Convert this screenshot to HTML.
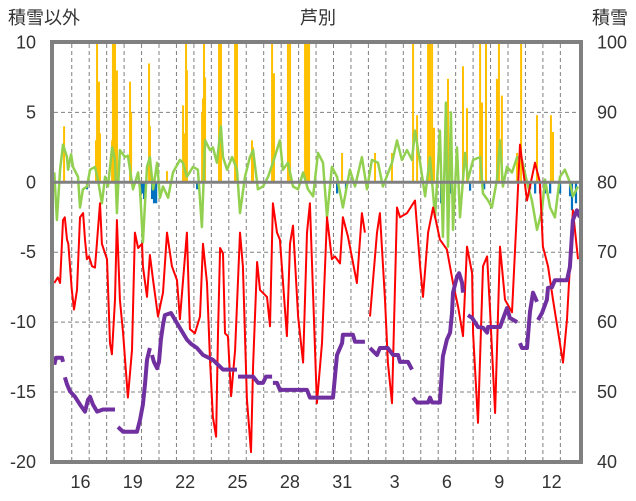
<!DOCTYPE html>
<html><head><meta charset="utf-8"><style>
html,body{margin:0;padding:0;background:#fff;width:636px;height:501px;overflow:hidden}
svg{display:block;font-family:"Liberation Sans","Noto Sans CJK JP",sans-serif}
</style></head><body>
<svg id="chart" width="636" height="501" viewBox="0 0 636 501">
<defs><clipPath id="pc"><rect x="54" y="44" width="525" height="416"/></clipPath></defs>
<rect x="0" y="0" width="636" height="501" fill="#fff"/>
<g id="grid"></g>
<g id="marks" clip-path="url(#pc)"></g>
<line id="zero" stroke="#808080" stroke-width="3"/>
<rect x="52" y="42" width="529" height="420" fill="none" stroke="#808080" stroke-width="4"/>
<g id="axes"></g>
<text x="44" y="24" font-size="18" text-anchor="middle" fill="#333">積雪以外</text>
<text x="318" y="24" font-size="18" text-anchor="middle" fill="#333">芦別</text>
<text x="610" y="24" font-size="18" text-anchor="middle" fill="#333">積雪</text>
</svg>
<script>
const leftTicks=[10,5,0,-5,-10,-15,-20];
const rightTicks=[100,90,80,70,60,50,40];
const dayLabels=["16","19","22","25","28","31","3","6","9","12"];
const dayLabelIdx=[1,4,7,10,13,16,19,22,25,28];
const tempDays=[0,0.2,0.33,0.5,0.6,0.73,0.8,1.0,1.13,1.3,1.47,1.65,1.76,1.87,1.99,2.16,2.33,2.62,2.73,3.02,3.19,3.3,3.48,3.59,3.76,3.94,4.22,4.45,4.62,4.8,5.03,5.08,5.31,5.48,5.66,5.94,6.23,6.46,6.74,7.03,7.2,7.6,7.77,8.06,8.35,8.52,8.75,8.92,9.09,9.27,9.38,9.5,9.67,9.78,9.95,10.13,10.36,10.64,10.81,11.04,11.27,11.39,11.62,11.79,12.19,12.36,12.53,12.76,12.93,13.33,13.51,13.68,13.97,14.26,14.48,14.65,15.05,15.34,15.63,15.91,16.08,16.37,16.54,16.83,17.34,17.63,17.8,null,18.09,18.49,18.66,18.95,19.12,19.35,19.64,19.81,20.21,20.67,20.96,21.13,21.42,21.71,22.1,22.5,22.85,23.14,23.42,23.65,23.94,24.0,24.28,24.57,24.8,24.97,25.26,25.54,25.83,26.23,26.52,26.69,27.09,27.55,27.83,28.0,28.29,28.58,29.15,29.38,29.55,29.72,30.01];
const tempVals=[-7.2,-6.8,-7.2,-2.7,-2.5,-4.1,-4.4,-7.7,-9.1,-7.7,-2.5,-2.2,-4.1,-5.5,-5.3,-6.0,-6.1,-1.5,-4.4,-5.5,-11.5,-12.3,-8.4,-2.7,-8.4,-10.8,-15.4,-12.0,-3.6,-4.7,-4.4,-6.0,-8.2,-5.2,-7.0,-9.6,-7.9,-3.6,-6.0,-7.0,-9.8,-3.6,-10.5,-10.8,-9.6,-4.4,-7.2,-12.7,-16.8,-18.2,-10.8,-4.7,-5.1,-10.8,-11.0,-15.3,-12.0,-3.6,-6.0,-15.5,-19.3,-13.1,-5.7,-7.7,-8.2,-10.3,-1.5,-3.6,-4.1,-11.0,-4.4,-3.1,-9.6,-12.9,-3.6,-1.5,-15.8,-11.5,-2.5,-5.5,-5.3,-5.8,-2.5,-3.9,-7.2,-2.2,-3.6,null,-9.6,-3.6,-2.2,-8.4,-12.9,-15.8,-1.8,-2.5,-2.2,-1.3,-6.0,-8.2,-3.6,-1.8,-4.1,-4.8,-7.2,-8.9,-11.0,-4.6,-6.5,-10.8,-17.2,-6.0,-5.3,-9.1,-16.5,-4.6,-8.4,-9.3,-1.8,2.7,-1.3,1.4,0,-4.6,-6.0,-8.4,-12.9,-9.8,-6.0,-2.0,-5.5];
const greenDays=[0,0.15,0.33,0.5,0.73,0.79,0.96,1.07,1.36,1.47,1.64,1.87,2.05,2.33,2.5,2.73,2.91,3.08,3.31,3.48,3.59,3.76,4.05,4.22,4.51,4.8,4.91,5.08,5.31,5.48,5.66,5.89,6.06,6.23,6.52,6.8,7.2,7.37,7.6,7.95,8.23,8.46,8.64,8.92,9.09,9.32,9.55,9.67,9.9,10.19,10.47,10.64,10.93,11.21,11.39,11.67,11.96,12.25,12.53,12.93,13.1,13.39,13.68,13.97,14.26,14.54,14.83,15.11,15.4,15.63,15.91,16.2,16.54,16.94,17.23,17.63,17.92,18.2,18.55,18.83,19.35,19.64,19.92,20.21,20.5,20.67,20.96,21.25,21.53,21.82,22.1,22.27,22.44,22.56,22.73,22.85,23.08,23.25,23.54,23.71,24.0,24.4,24.57,24.86,25.08,25.37,25.54,25.71,25.94,26.23,26.52,26.8,27.09,27.37,27.66,27.95,28.12,28.41,28.69,28.98,29.26,29.55,29.72,30.01];
const greenVals=[0.7,-2.7,0.9,2.7,1.8,0.9,2.0,1.1,0.4,-1.8,-0.5,-0.3,0.9,1.1,0.2,-1.5,0.4,-0.3,2.5,1.6,-2.2,2.3,1.8,1.9,-0.5,0.7,-0.5,-4.3,1.1,1.8,-0.5,1.4,-1.1,-0.3,-1.1,0.7,1.6,1.4,0.4,1.1,0.9,-3.2,3.0,2.3,2.5,1.4,4.0,1.8,0.9,1.8,0.9,-2.2,0.4,1.8,2.3,-0.5,-0.3,0.4,1.4,3.0,0.9,1.4,-0.3,-0.5,0.7,-0.5,-1.0,2.1,1.4,-2.5,1.1,0.4,-1.8,0.9,-0.3,1.8,-0.5,1.6,1.4,-0.3,1.4,3.0,1.6,2.3,1.6,3.7,1.4,-1.0,1.8,-2.5,3.7,-3.9,5.7,-4.6,5.0,-3.4,2.5,-2.5,2.1,0.2,1.6,1.8,-0.8,-1.3,-1.8,0.2,3.0,-0.3,1.1,0.7,1.8,1.6,0,-1.3,-3.4,-2.0,0.2,-1.8,-2.5,0.4,0.9,0,-1.0,-0.3];
const snowDays=[0,0.1,0.44,0.5,null,0.61,0.73,0.9,1.19,1.47,1.76,1.93,2.05,2.22,2.45,2.79,3.48,null,3.65,3.94,4.74,4.91,5.08,5.2,5.31,5.48,null,5.6,5.71,5.89,6.0,6.11,6.23,6.34,6.69,6.92,7.26,7.6,7.83,8.18,8.52,9.09,9.67,10.47,null,10.53,11.39,11.68,11.96,12.13,12.48,null,12.53,12.76,12.93,14.48,14.65,15.97,16.2,16.49,16.54,17.11,17.23,17.8,null,18.09,18.49,18.66,19.12,19.41,19.7,19.81,20.27,20.5,null,20.56,20.78,21.42,21.53,21.65,22.1,22.22,22.27,22.5,22.68,22.79,22.85,23.08,23.2,23.37,23.42,null,23.71,23.94,24.28,24.57,24.8,24.86,25.54,25.94,26.11,26.52,null,26.69,26.8,27.09,27.26,27.43,27.66,null,27.72,27.95,28.23,28.29,28.52,28.69,29.38,29.55,29.72,29.95,30.12];
const snowVals=[53.9,54.9,54.9,54.3,null,52.1,51.1,50.1,49.3,48.2,47.2,48.9,49.3,48.2,47.2,47.5,47.5,null,45.0,44.3,44.3,46.0,48.2,51.1,54.6,56.3,null,55.3,54.3,53.4,54.3,57.5,59.6,61.0,61.3,60.3,58.9,57.5,56.9,56.3,55.3,54.6,53.2,53.2,null,52.2,52.2,51.3,51.3,52.2,52.2,null,51.3,51.3,50.3,50.3,49.2,49.2,55.3,57.0,58.2,58.2,57.2,57.2,null,56.3,55.3,56.3,56.3,55.3,55.3,54.3,54.3,53.2,null,49.2,48.5,48.5,49.2,48.5,48.5,53.2,55.1,57.5,58.5,61.3,64.2,66.5,67.0,65.6,64.2,null,61.0,60.6,59.3,59.2,58.5,59.3,59.3,62.0,60.6,60.0,null,57.0,56.3,56.3,61.5,64.2,62.9,null,60.3,61.3,63.2,64.9,65.0,66.0,66.0,67.9,74.6,76.0,75.0];
const yellowDays=[0.56,2.39,2.45,2.56,2.62,3.31,3.36,3.42,3.48,3.59,4.34,4.4,5.43,5.48,6.46,7.38,7.43,7.55,7.6,8.47,8.52,8.58,8.64,9.44,9.5,9.55,10.36,10.41,10.47,11.33,11.39,12.48,12.53,12.59,13.39,13.45,13.51,14.37,14.42,14.48,14.54,14.6,16.49,18.38,19.35,20.56,20.79,21.42,21.53,21.65,21.76,22.56,23.42,23.65,24.4,24.51,24.74,25.37,25.48,25.65,26.52,26.75,27.66,28.46,28.58];
const yellowVals=[4.0,3.0,10.5,7.2,3.5,3.0,10.5,10.5,10.5,8.0,7.2,5.0,8.5,4.0,0.8,5.5,3.5,10.5,8.0,5.0,6.0,10.5,7.5,10.5,5.5,10.5,10.5,10.5,10.5,3.0,2.5,10.5,6.5,7.8,10.5,5.0,10.5,10.5,9.0,10.5,10.5,10.5,2.1,2.1,2.1,10.5,4.8,10.5,10.5,10.5,3.9,7.4,8.3,5.3,10.5,5.7,10.5,7.4,10.5,6.2,2.1,10.5,4.8,4.8,3.6];
const blueDays=[1.87,4.91,5.03,5.14,5.6,5.71,5.83,8.18,16.2,16.71,22.16,22.68,23.82,24.63,27.26,27.55,27.83,28.12,28.41,28.98,29.55,29.66,29.89];
const blueVals=[-0.5,-1.0,-0.8,-1.2,-1.2,-1.5,-1.5,-0.5,-0.8,-0.5,-1.5,-0.8,-0.6,-0.5,-0.5,-0.8,-0.8,-0.8,-0.8,-0.8,-1.0,-2.0,-1.5];

const NS="http://www.w3.org/2000/svg";
const X0=54.3, DW=17.45, Y0=182.3, UY=13.98;
const xS=d=>X0+DW*d;
const yL=v=>Y0-UY*v;
const yR=s=>yL((s-80)/2);
function mk(tag,attrs,parent){const e=document.createElementNS(NS,tag);for(const k in attrs)e.setAttribute(k,attrs[k]);parent.appendChild(e);return e;}
const grid=document.getElementById('grid'),marks=document.getElementById('marks'),axes=document.getElementById('axes');
[5,-5,-10,-15].forEach(v=>{
  const l=mk('line',{x1:54,x2:579,y1:yL(v),y2:yL(v),stroke:'#808080','stroke-width':1,'stroke-dasharray':'4,3'},grid);
  
  
});
for(let k=1;k<=29;k++){
  const l=mk('line',{x1:xS(k),x2:xS(k),y1:44,y2:460,stroke:'#808080','stroke-width':1,'stroke-dasharray':'4,3'},grid);
  
  
}
const z=document.getElementById('zero');
z.setAttribute('x1',54);z.setAttribute('x2',579);z.setAttribute('y1',yL(0));z.setAttribute('y2',yL(0));
yellowDays.forEach((d,i)=>{
  const v=yellowVals[i];
  const b=mk('rect',{x:xS(d)-1,y:yL(v),width:2,height:yL(0)-yL(v),fill:'#ffc000'},marks);
  
  
});
blueDays.forEach((d,i)=>{
  const v=blueVals[i];
  const b=mk('rect',{x:xS(d)-1,y:yL(0),width:2.2,height:yL(v)-yL(0),fill:'#0070c0'},marks);
  
  
});
function pathOf(ds,vs,yf){let p='',pen=false;ds.forEach((d,i)=>{if(d===null||vs[i]===null){pen=false;return;}p+=(pen?'L':'M')+xS(d).toFixed(1)+','+yf(vs[i]).toFixed(1);pen=true;});return p;}
const g=mk('path',{d:pathOf(greenDays,greenVals,yL),fill:'none',stroke:'#92d050','stroke-width':2.5,'stroke-linejoin':'round'},marks);


const r=mk('path',{d:pathOf(tempDays,tempVals,yL),fill:'none',stroke:'#ff0000','stroke-width':2,'stroke-linejoin':'round'},marks);


const s=mk('path',{d:pathOf(snowDays,snowVals,yR),fill:'none',stroke:'#7030a0','stroke-width':4,'stroke-linejoin':'round'},marks);


leftTicks.forEach(v=>{
  const t=mk('text',{x:36,y:yL(v)+6,'font-size':18,'text-anchor':'end',fill:'#333'},axes);
  t.textContent=v;
  
  
});
rightTicks.forEach(v=>{
  const t=mk('text',{x:597,y:yR(v)+6,'font-size':18,'text-anchor':'start',fill:'#333'},axes);
  t.textContent=v;
  
  
});
dayLabels.forEach((lab,i)=>{
  const t=mk('text',{x:xS(dayLabelIdx[i]+0.5),y:488,'font-size':18,'text-anchor':'middle',fill:'#333'},axes);
  t.textContent=lab;
  
  
});
</script>
</body></html>
